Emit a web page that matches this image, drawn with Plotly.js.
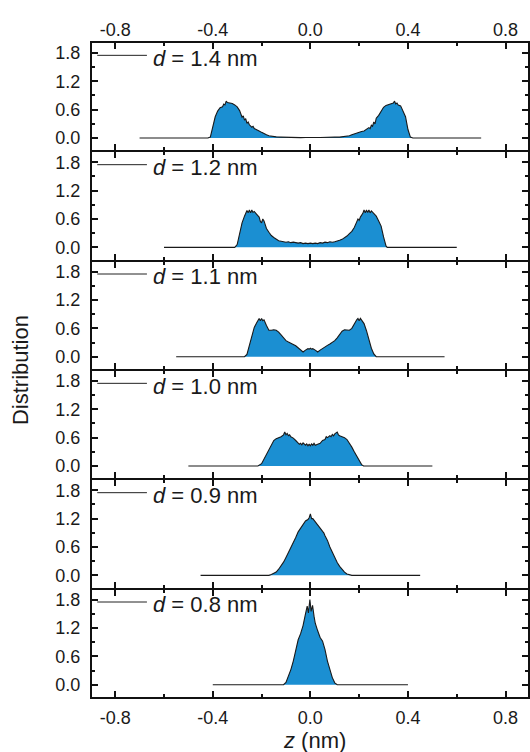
<!DOCTYPE html>
<html>
<head>
<meta charset="utf-8">
<script src="https://cdn.plot.ly/plotly-3.0.1.min.js"></script>
<style>html,body{margin:0;padding:0;background:#fff;}#chart{width:530px;height:752px;}</style>
</head>
<body>
<div id="chart"></div>
<script>
// Panel labels (top to bottom)
const panelLabels = ['<i>d</i> = 1.4 nm', '<i>d</i> = 1.2 nm', '<i>d</i> = 1.1 nm', '<i>d</i> = 1.0 nm', '<i>d</i> = 0.9 nm', '<i>d</i> = 0.8 nm'];

// Tick labels
const xTickVals = [-0.8, -0.4, 0, 0.4, 0.8];
const xTickText = ['-0.8', '-0.4', '0.0', '0.4', '0.8'];
const yTickVals = [0, 0.6, 1.2, 1.8];
const yTickText = ['0.0', '0.6', '1.2', '1.8'];

// Distributions as [z (nm), distribution] pairs
const dist14 = [[-0.70,0],[-0.42,0],[-0.41,0.02],[-0.40,0.22],[-0.39,0.45],[-0.38,0.57],[-0.37,0.64],[-0.36,0.66],[-0.355,0.72],[-0.35,0.70],
  [-0.345,0.78],[-0.34,0.75],[-0.33,0.74],[-0.32,0.73],[-0.31,0.70],[-0.30,0.66],[-0.29,0.58],[-0.285,0.50],[-0.28,0.44],[-0.275,0.47],
  [-0.27,0.38],[-0.265,0.41],[-0.26,0.31],[-0.255,0.34],[-0.25,0.28],[-0.24,0.23],[-0.235,0.25],[-0.23,0.20],[-0.22,0.18],[-0.21,0.15],
  [-0.20,0.12],[-0.19,0.09],[-0.18,0.07],[-0.17,0.05],[-0.16,0.04],[-0.15,0.03],[-0.14,0.025],[-0.12,0.02],[-0.10,0.015],[-0.08,0.01],
  [-0.06,0.01],[-0.04,0.008],[-0.02,0.012],[0,0.005],[0.02,0.01],[0.04,0.012],[0.06,0.01],[0.08,0.015],[0.10,0.02],[0.12,0.02],
  [0.14,0.03],[0.15,0.04],[0.16,0.05],[0.17,0.07],[0.18,0.09],[0.19,0.10],[0.20,0.12],[0.21,0.14],[0.22,0.15],[0.23,0.19],
  [0.24,0.22],[0.245,0.20],[0.25,0.27],[0.255,0.25],[0.26,0.34],[0.265,0.30],[0.27,0.42],[0.28,0.48],[0.29,0.58],[0.30,0.65],
  [0.31,0.69],[0.32,0.71],[0.33,0.73],[0.34,0.74],[0.345,0.78],[0.35,0.72],[0.355,0.74],[0.36,0.70],[0.37,0.68],[0.38,0.58],
  [0.39,0.45],[0.40,0.18],[0.41,0.02],[0.42,0],[0.70,0]];

const dist12 = [[-0.60,0],[-0.31,0],[-0.30,0.06],[-0.29,0.30],[-0.28,0.52],[-0.27,0.66],[-0.265,0.72],[-0.26,0.78],[-0.255,0.73],[-0.25,0.79],
  [-0.245,0.73],[-0.24,0.79],[-0.235,0.74],[-0.23,0.76],[-0.22,0.70],[-0.21,0.64],[-0.205,0.55],[-0.20,0.52],[-0.195,0.60],[-0.19,0.56],
  [-0.185,0.48],[-0.18,0.40],[-0.17,0.32],[-0.16,0.25],[-0.15,0.21],[-0.14,0.17],[-0.13,0.14],[-0.12,0.13],[-0.11,0.12],[-0.10,0.11],
  [-0.09,0.12],[-0.08,0.10],[-0.07,0.11],[-0.06,0.10],[-0.05,0.09],[-0.04,0.10],[-0.03,0.08],[-0.02,0.09],[-0.01,0.08],[0,0.09],
  [0.01,0.08],[0.02,0.09],[0.03,0.08],[0.04,0.10],[0.05,0.09],[0.06,0.11],[0.07,0.10],[0.08,0.12],[0.09,0.11],[0.10,0.12],
  [0.11,0.13],[0.12,0.15],[0.13,0.17],[0.14,0.20],[0.15,0.24],[0.16,0.29],[0.17,0.34],[0.18,0.42],[0.185,0.50],[0.19,0.54],
  [0.195,0.60],[0.20,0.57],[0.205,0.64],[0.21,0.68],[0.215,0.72],[0.22,0.79],[0.225,0.73],[0.23,0.79],[0.235,0.74],[0.24,0.79],
  [0.245,0.73],[0.25,0.77],[0.26,0.72],[0.27,0.66],[0.28,0.56],[0.29,0.45],[0.30,0.22],[0.31,0.03],[0.315,0],[0.60,0]];

const dist11 = [[-0.55,0],[-0.27,0],[-0.26,0.05],[-0.25,0.25],[-0.24,0.45],[-0.23,0.62],[-0.22,0.72],[-0.21,0.81],[-0.205,0.76],[-0.20,0.81],
  [-0.195,0.76],[-0.19,0.78],[-0.18,0.66],[-0.17,0.56],[-0.16,0.56],[-0.15,0.57],[-0.14,0.56],[-0.13,0.52],[-0.12,0.46],[-0.11,0.40],
  [-0.10,0.34],[-0.09,0.31],[-0.08,0.29],[-0.07,0.26],[-0.06,0.23],[-0.05,0.18],[-0.04,0.14],[-0.03,0.10],[-0.02,0.14],[-0.01,0.17],
  [-0.005,0.16],[0,0.18],[0.005,0.16],[0.01,0.17],[0.02,0.14],[0.03,0.10],[0.04,0.14],[0.05,0.18],[0.06,0.21],[0.07,0.24],
  [0.08,0.27],[0.09,0.30],[0.10,0.34],[0.11,0.40],[0.12,0.46],[0.13,0.54],[0.14,0.57],[0.15,0.57],[0.16,0.56],[0.17,0.60],
  [0.18,0.70],[0.19,0.78],[0.195,0.81],[0.20,0.76],[0.205,0.81],[0.21,0.78],[0.22,0.70],[0.23,0.55],[0.24,0.35],[0.25,0.18],
  [0.26,0.06],[0.27,0],[0.55,0]];

const dist10 = [[-0.50,0],[-0.215,0],[-0.20,0.05],[-0.19,0.15],[-0.18,0.26],[-0.17,0.37],[-0.16,0.47],[-0.15,0.54],[-0.14,0.58],[-0.13,0.60],
  [-0.12,0.62],[-0.11,0.66],[-0.105,0.72],[-0.10,0.66],[-0.095,0.69],[-0.09,0.64],[-0.085,0.66],[-0.08,0.62],[-0.07,0.59],[-0.06,0.54],
  [-0.05,0.50],[-0.045,0.46],[-0.04,0.48],[-0.035,0.45],[-0.03,0.49],[-0.02,0.44],[-0.015,0.47],[-0.01,0.43],[-0.005,0.46],[0,0.43],
  [0.005,0.47],[0.01,0.44],[0.015,0.48],[0.02,0.44],[0.03,0.46],[0.04,0.48],[0.05,0.54],[0.06,0.56],[0.065,0.62],[0.07,0.60],
  [0.08,0.64],[0.085,0.62],[0.09,0.67],[0.095,0.64],[0.10,0.68],[0.11,0.72],[0.115,0.66],[0.12,0.64],[0.13,0.62],[0.14,0.60],
  [0.15,0.56],[0.16,0.49],[0.17,0.40],[0.18,0.30],[0.19,0.20],[0.20,0.10],[0.21,0.03],[0.218,0],[0.50,0]];

const dist09 = [[-0.45,0],[-0.17,0],[-0.16,0.02],[-0.15,0.04],[-0.14,0.07],[-0.13,0.13],[-0.12,0.20],[-0.11,0.28],[-0.10,0.38],[-0.09,0.48],
  [-0.085,0.55],[-0.08,0.58],[-0.075,0.64],[-0.07,0.70],[-0.06,0.80],[-0.05,0.92],[-0.045,0.96],[-0.04,1.00],[-0.03,1.08],[-0.02,1.15],
  [-0.01,1.18],[-0.005,1.22],[0,1.30],[0.005,1.20],[0.01,1.20],[0.02,1.14],[0.03,1.08],[0.04,1.00],[0.05,0.93],[0.055,0.90],
  [0.06,0.84],[0.07,0.74],[0.08,0.60],[0.09,0.48],[0.10,0.37],[0.11,0.27],[0.12,0.19],[0.13,0.12],[0.14,0.07],[0.15,0.03],
  [0.16,0.01],[0.17,0],[0.45,0]];

const dist08 = [[-0.40,0],[-0.11,0],[-0.10,0.05],[-0.09,0.18],[-0.08,0.32],[-0.07,0.50],[-0.06,0.72],[-0.05,0.95],[-0.04,1.08],[-0.03,1.25],
  [-0.02,1.50],[-0.013,1.66],[-0.008,1.52],[-0.002,1.80],[0.003,1.55],[0.009,1.68],[0.015,1.45],[0.02,1.30],[0.03,1.14],[0.04,1.00],
  [0.05,0.92],[0.06,0.74],[0.07,0.50],[0.08,0.30],[0.09,0.15],[0.10,0.04],[0.11,0],[0.40,0]];

const panelData = [dist14, dist12, dist11, dist10, dist09, dist08];

const fontFam = '"Liberation Sans", Arial, Helvetica, sans-serif';
const nP = panelData.length;
const plotH = 752 - 43 - 55;
const gapFrac = 2 / plotH;                  // axis lines sit outside the domain: 2px gap makes them coincide
const panelFrac = (1 - gapFrac * (nP - 1)) / nP;
const traces = [];
const layout = {
  width: 530, height: 752,
  margin: {l: 92, r: 2, t: 43, b: 55},
  paper_bgcolor: '#fff', plot_bgcolor: '#fff',
  showlegend: false,
  font: {family: fontFam, size: 18, color: '#1a1a1a'},
  annotations: [], shapes: []
};

panelData.forEach((pd, i) => {
  const sfx = i === 0 ? '' : String(i + 1);
  const top = 1 - i * (panelFrac + gapFrac);
  traces.push({
    type: 'scatter', mode: 'lines',
    x: pd.map(p => p[0]), y: pd.map(p => p[1]),
    xaxis: 'x' + sfx, yaxis: 'y' + sfx,
    line: {color: '#1a1a1a', width: 1.1},
    fill: 'tozeroy', fillcolor: '#1b8fd2',
    hoverinfo: 'skip'
  });
  layout['xaxis' + sfx] = {
    range: [-0.895, 0.892], anchor: 'y' + sfx, domain: [0, 1],
    tickmode: 'array', tickvals: xTickVals, ticktext: xTickText,
    ticks: 'inside', ticklen: 6, tickwidth: 2, tickcolor: '#111',
    minor: {dtick: 0.2, tick0: 0, ticks: 'inside', ticklen: 3, tickwidth: 2, tickcolor: '#111'},
    showline: true, linewidth: 2, linecolor: '#111', mirror: 'ticks',
    showgrid: false, zeroline: false,
    showticklabels: (i === 0 || i === nP - 1),
    side: i === 0 ? 'top' : 'bottom',
    ticklabelstandoff: i === 0 ? -2 : 3,
    tickfont: {family: fontFam, size: 18, color: '#1a1a1a'},
    fixedrange: true
  };
  layout['yaxis' + sfx] = {
    range: [-0.26, 2.01], anchor: 'x' + sfx,
    domain: [Math.max(0, top - panelFrac), Math.min(1, top)],
    tickmode: 'array', tickvals: yTickVals, ticktext: yTickText,
    ticks: 'inside', ticklen: 6, tickwidth: 2, tickcolor: '#111',
    minor: {dtick: 0.3, tick0: 0, ticks: 'inside', ticklen: 3, tickwidth: 2, tickcolor: '#111'},
    showline: true, linewidth: 2, linecolor: '#111', mirror: 'ticks',
    showgrid: false, zeroline: false,
    ticklabelstandoff: 6,
    tickfont: {family: fontFam, size: 18, color: '#1a1a1a'},
    fixedrange: true
  };
  layout.shapes.push({
    type: 'line', xref: 'x' + sfx + ' domain', yref: 'y' + sfx + ' domain',
    x0: 0.012, x1: 0.126, y0: 0.885, y1: 0.885,
    line: {color: '#222', width: 1}
  });
  layout.annotations.push({
    xref: 'x' + sfx + ' domain', yref: 'y' + sfx + ' domain',
    x: 0.136, y: 0.86, xanchor: 'left', yanchor: 'middle',
    text: panelLabels[i], showarrow: false,
    font: {family: fontFam, size: 22, color: '#1a1a1a'}
  });
});

layout.annotations.push({
  xref: 'paper', yref: 'paper', x: -0.165, y: 0.5,
  xanchor: 'center', yanchor: 'middle', textangle: -90,
  text: 'Distribution', showarrow: false,
  font: {family: fontFam, size: 22, color: '#1a1a1a'}
});
layout.annotations.push({
  xref: 'paper', yref: 'paper', x: 0.51, y: -0.067,
  xanchor: 'center', yanchor: 'middle',
  text: '<i>z</i> (nm)', showarrow: false,
  font: {family: fontFam, size: 22, color: '#1a1a1a'}
});

Plotly.newPlot('chart', traces, layout, {displayModeBar: false, staticPlot: true});
</script>
</body>
</html>
